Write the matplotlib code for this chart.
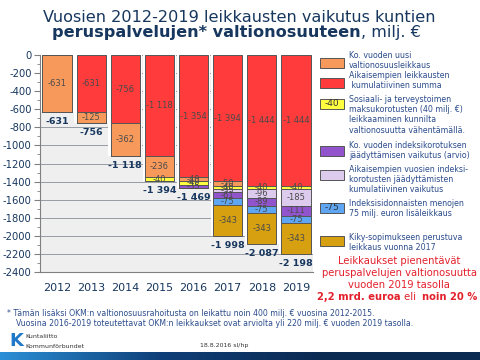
import matplotlib
matplotlib.use("Agg")
import matplotlib.pyplot as plt
import numpy as np
from matplotlib.patches import Rectangle
from matplotlib.ticker import FuncFormatter
from matplotlib.colors import LinearSegmentedColormap

years = ["2012", "2013", "2014", "2015", "2016", "2017", "2018", "2019"]
red = [0, 631, 756, 1118, 1354, 1394, 1444, 1444]
orange = [631, 125, 362, 236, 40, 50, 0, 0]
yellow = [0, 0, 0, 40, 40, 40, 40, 40]
lavender = [0, 0, 0, 0, 0, 35, 96, 185]
purple = [0, 0, 0, 0, 35, 61, 89, 111]
blue = [0, 0, 0, 0, 0, 75, 75, 75]
gold = [0, 0, 0, 0, 0, 343, 343, 343]
totals = ["-631", "-756", "-1 118", "-1 394", "-1 469", "-1 998", "-2 087", "-2 198"]

series = [red, orange, yellow, lavender, purple, blue, gold]
colors = ["#ff3b3b", "#f8995c", "#ffff40", "#dccbec", "#9254cc", "#5ea6f2", "#d6a011"]

navy = "#17375e"
legblue = "#2b4c8c"

fig = plt.figure(figsize=(4.8, 3.6), dpi=100)
W, H = 480, 360

def fx(x):
    return x / W

def fy(y):
    return 1 - y / H

ax = fig.add_axes([fx(40), fy(272), fx(313) - fx(40), fy(55) - fy(272)])
ax.set_facecolor("#efefef")
ax.set_xlim(-0.5, 7.5)
ax.set_ylim(-2400, 0)
ax.set_yticks(np.arange(-2400, 1, 200))
ax.set_yticks(np.arange(-2400, 1, 100), minor=True)
ax.yaxis.set_major_formatter(FuncFormatter(lambda v, p: f"{int(round(v))}".replace("\u2212", "-")))
ax.yaxis.grid(True, color="#8a8f98", linewidth=0.6)
ax.set_axisbelow(True)
for s in ["top", "right"]:
    ax.spines[s].set_visible(False)
ax.spines["left"].set_color("#808080")
ax.spines["bottom"].set_color("#808080")
ax.tick_params(axis="y", labelsize=7.2, colors="#808080", labelcolor=navy, length=4, pad=2)
ax.tick_params(axis="y", which="minor", length=2.5, colors="#808080")
ax.set_xticks(range(len(years)))
ax.set_xticklabels(years, fontsize=8, color=navy)
ax.tick_params(axis="x", length=0, pad=8)

x = np.arange(len(years))
tot = np.zeros(len(years))
for s in series:
    tot += np.array(s)
ax.bar(x, -tot, width=0.99, color="white", edgecolor="none", zorder=2)

bottom = np.zeros(len(years))
for s, c in zip(series, colors):
    v = np.array(s, dtype=float)
    ax.bar(x, -v, bottom=-bottom, width=0.86, color=c, edgecolor="#555555", linewidth=0.7, zorder=3)
    for i in range(len(years)):
        if v[i] > 0:
            ax.text(x[i], -bottom[i] - v[i] / 2, f"-{int(v[i]):,}".replace(",", " "),
                    ha="center", va="center", fontsize=6, color="#4a4a4a", zorder=4)
    bottom += v

for i in range(len(years)):
    ax.text(x[i], -bottom[i] - 55, totals[i], ha="center", va="top", fontsize=6.8,
            fontweight="bold", color=navy, zorder=4)

# Title
fig.text(fx(239), fy(17), "Vuosien 2012-2019 leikkausten vaikutus kuntien", ha="center", va="center",
         fontsize=11.6, color=navy)
fig.text(fx(361), fy(33), "peruspalvelujen* valtionosuuteen", ha="right", va="center",
         fontsize=11.6, color=navy, fontweight="bold")
fig.text(fx(361), fy(33), ", milj. €", ha="left", va="center", fontsize=11.6, color=navy)

# Legend
legend = [
    (colors[1], "", 63, ["Ko. vuoden uusi", "valtionosuusleikkaus"], 56),
    (colors[0], "", 83, ["Aikaisempien leikkausten", " kumulatiivinen summa"], 76),
    (colors[2], "-40", 104, ["Sosiaali- ja terveystoimen", "maksukorotusten (40 milj. €)",
                             "leikkaaminen kunnilta", "valtionosuutta vähentämällä."], 100),
    (colors[4], "", 151, ["Ko. vuoden indeksikorotuksen", "jäädyttämisen vaikutus (arvio)"], 146),
    (colors[3], "", 175, ["Aikaisempien vuosien indeksi-", "korotusten jäädyttämisten",
                          "kumulatiivinen vaikutus"], 169),
    (colors[5], "-75", 208, ["Indeksisidonnaisten menojen", "75 milj. euron lisäleikkaus"], 203),
    (colors[6], "", 241, ["Kiky-sopimukseen perustuva", "leikkaus vuonna 2017"], 237),
]
for c, lab, yc, lines, ytop in legend:
    fig.patches.append(Rectangle((fx(320), fy(yc + 5)), fx(24), fy(yc - 5) - fy(yc + 5),
                                 transform=fig.transFigure, facecolor=c, edgecolor="#555555",
                                 linewidth=0.7))
    if lab:
        fig.text(fx(332), fy(yc), lab, ha="center", va="center", fontsize=6.5, color="#333333")
    for k, ln in enumerate(lines):
        fig.text(fx(349), fy(ytop + k * 10), ln, ha="left", va="center", fontsize=5.7, color=legblue)

# Red statement
red_c = "#e3202c"
fs = 7.2
fig.text(fx(399), fy(261), "Leikkaukset pienentävät", ha="center", va="center", fontsize=fs, color=red_c)
fig.text(fx(399), fy(273), "peruspalvelujen valtionosuutta", ha="center", va="center", fontsize=fs, color=red_c)
fig.text(fx(399), fy(285), "vuoden 2019 tasolla", ha="center", va="center", fontsize=fs, color=red_c)
fig.text(fx(401), fy(297), "2,2 mrd. euroa", ha="right", va="center", fontsize=fs, color=red_c, fontweight="bold")
fig.text(fx(401), fy(297), " eli ", ha="left", va="center", fontsize=fs, color=red_c)
fig.text(fx(422), fy(297), "noin 20 %", ha="left", va="center", fontsize=fs, color=red_c, fontweight="bold")

# Footer
fig.text(fx(7), fy(314), "* Tämän lisäksi OKM:n valtionosuusrahoitusta on leikattu noin 400 milj. € vuosina 2012-2015.",
         ha="left", va="center", fontsize=5.6, color=legblue)
fig.text(fx(16), fy(324), "Vuosina 2016-2019 toteutettavat OKM:n leikkaukset ovat arviolta yli 220 milj. € vuoden 2019 tasolla.",
         ha="left", va="center", fontsize=5.6, color=legblue)
fig.text(fx(200), fy(345), "18.8.2016 sl/hp", ha="left", va="center", fontsize=4.5, color="#333333")
fig.text(fx(9), fy(341), "K", ha="left", va="center", fontsize=13, color="#1f78c8", fontweight="bold")
fig.text(fx(25), fy(337), "Kuntaliitto", ha="left", va="center", fontsize=4.5, color="#333333")
fig.text(fx(25), fy(346), "Kommunförbundet", ha="left", va="center", fontsize=4.5, color="#333333")

# Bottom band
bax = fig.add_axes([0, 0, 1, fy(352)])
grad = np.linspace(0, 1, 256).reshape(1, -1)
cm = LinearSegmentedColormap.from_list("band", ["#2a8fd6", "#0f3f78", "#0b2a52", "#0b2a52"])
bax.imshow(grad, aspect="auto", cmap=cm, extent=[0, 1, 0, 1])
bax.axis("off")

fig.savefig("out.png", dpi=100)
